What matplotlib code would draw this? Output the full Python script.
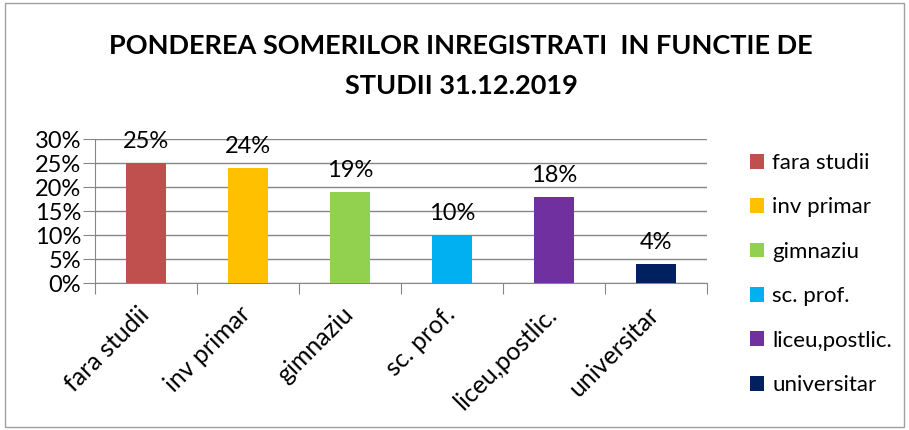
import matplotlib.pyplot as plt
from matplotlib.patches import Rectangle
from matplotlib.ticker import PercentFormatter
from matplotlib.transforms import ScaledTranslation
import numpy as np

# data
categories = ['fara studii', 'inv primar', 'gimnaziu', 'sc. prof.', 'liceu,postlic.', 'universitar']
shares = [25, 24, 19, 10, 18, 4]
bar_colors = ['#C0504D', '#FFC000', '#92D050', '#00B0F0', '#7030A0', '#002060']
y_ticks = [0, 5, 10, 15, 20, 25, 30]

plt.rcParams['font.family'] = ['Lato', 'DejaVu Sans']

fig = plt.figure(figsize=(9.09, 4.30), dpi=100)
ax = fig.add_axes([95 / 909, 1 - 283 / 430, 612 / 909, 144 / 430])

# outer chart frame
fig.patches.append(Rectangle((5 / 909, 3 / 430), 899 / 909, 424 / 430, transform=fig.transFigure,
                             fill=False, edgecolor='#a0a0a0', linewidth=1))

x = np.arange(len(categories))
bars = ax.bar(x, shares, width=0.4, color=bar_colors, label=categories, zorder=3)

for xi, v in zip(x, shares):
    ax.text(xi, v + 2.2, f'{v}%', ha='center', va='bottom', fontsize=17)

ax.set_xlim(-0.5, len(categories) - 0.5)
ax.set_ylim(0, 30)
ax.set_yticks(y_ticks)
ax.yaxis.set_major_formatter(PercentFormatter(decimals=0))
ax.grid(axis='y', color='#868686', linewidth=1, zorder=0)
ax.tick_params(axis='y', labelsize=17, length=9, color='#868686', pad=1)

# x ticks sit between categories, labels at centres
ax.set_xticks(np.arange(-0.5, len(categories)), minor=False)
ax.set_xticklabels([])
ax.set_xticks(x, minor=True)
ax.set_xticklabels(categories, minor=True, rotation=45, ha='right', rotation_mode='anchor', fontsize=18)
ax.tick_params(axis='x', which='major', length=8, color='#868686')
ax.tick_params(axis='x', which='minor', length=0, pad=14)
shift = ScaledTranslation(-9 / 100, 0, fig.dpi_scale_trans)
for lbl in ax.get_xticklabels(minor=True):
    lbl.set_transform(lbl.get_transform() + shift)

for side in ['top', 'right']:
    ax.spines[side].set_visible(False)
ax.spines['left'].set_color('#868686')
ax.spines['bottom'].set_color('#868686')

fig.text(461 / 909, 1 - 46 / 430, 'PONDEREA SOMERILOR INREGISTRATI  IN FUNCTIE DE',
         ha='center', va='center', fontsize=19.5, fontweight='bold')
fig.text(461 / 909, 1 - 86 / 430, 'STUDII 31.12.2019', ha='center', va='center',
         fontsize=19.5, fontweight='bold')

fig.legend(handles=bars.patches, labels=categories, loc='upper left',
           bbox_to_anchor=(741 / 909, 1 - 144 / 430), frameon=False, fontsize=16,
           handlelength=0.65, handleheight=0.65, handletextpad=0.35, labelspacing=1.1,
           borderaxespad=0)

fig.savefig('out.png', dpi=100)
